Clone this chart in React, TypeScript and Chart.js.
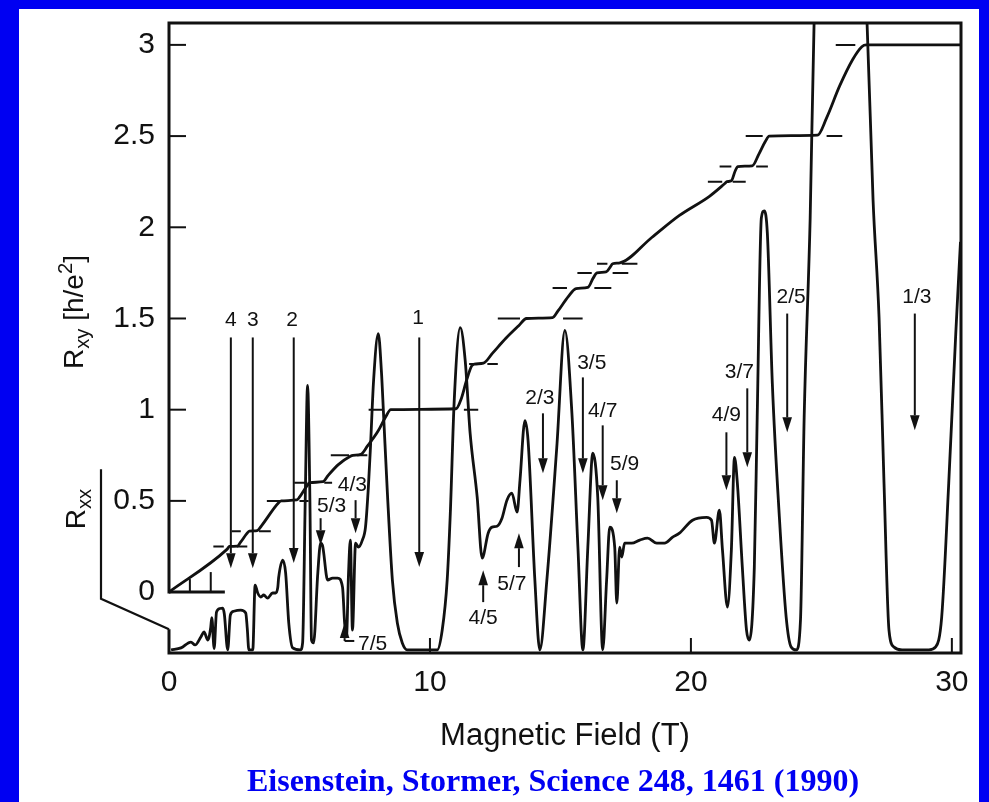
import React, { useEffect, useRef } from "react";
import { Chart, registerables } from "chart.js";

Chart.register(...registerables);

const FONT = "'Liberation Sans', Arial, Helvetica, sans-serif";
const INK = "#111111";
const BLUE = "#0000f2";

// ---- Longitudinal resistance R_xx (drawn in the plot's y units) ----
const rxxField = [
  0.08, 0.46, 0.84, 1.0, 1.22, 1.34, 1.49, 1.6, 1.64, 1.73, 1.82, 1.95, 2.06, 2.12, 2.25, 2.35,
  2.48, 2.75, 2.94, 3.0, 3.06, 3.21, 3.3, 3.4, 3.52, 3.63, 3.78, 3.97, 4.09, 4.17, 4.2, 4.36,
  4.47, 4.59, 4.74, 5.04, 5.12, 5.22, 5.31, 5.4, 5.46, 5.54, 5.7, 5.81, 5.88, 6.08, 6.27, 6.46,
  6.65, 6.73, 6.8, 6.88, 6.95, 7.03, 7.15, 7.26, 7.41, 7.53, 7.64, 7.72, 7.84, 8.02, 8.14, 8.22,
  8.37, 8.56, 8.75, 8.94, 9.13, 10.28, 10.47, 10.66, 10.78, 10.93, 11.16, 11.35, 11.54, 11.81,
  12.0, 12.23, 12.38, 12.57, 12.76, 12.95, 13.14, 13.34, 13.45, 13.64, 13.76, 14.02, 14.21,
  14.48, 14.86, 15.17, 15.44, 15.67, 15.86, 16.05, 16.24, 16.43, 16.62, 16.77, 16.89, 17.08,
  17.16, 17.27, 17.35, 17.46, 17.73, 18.04, 18.34, 18.69, 18.99, 19.3, 19.56, 20.06, 20.6,
  20.79, 20.9, 21.09, 21.21, 21.4, 21.55, 21.67, 21.78, 21.97, 22.13, 22.24, 22.43, 22.54, 22.7,
  22.81, 22.93, 23.12, 23.39, 23.65, 23.84, 24.04, 24.2, 24.34, 24.57, 24.72, 25.7, 26.75,
  26.98, 27.21, 27.4, 27.59, 27.78, 28.09, 29.12, 29.38, 29.61, 29.88, 30.15, 30.33,
];
const rxxValue = [
  -0.317, -0.306, -0.274, -0.29, -0.246, -0.219, -0.263, -0.192, -0.14, -0.31, -0.11, -0.09,
  -0.088, -0.12, -0.317, -0.126, -0.105, -0.099, -0.115, -0.2, -0.317, -0.317, 0.038, -0.005,
  -0.027, -0.016, -0.033, -0.005, -0.005, 0.027, 0.077, 0.175, 0.104, -0.17, -0.306, -0.317,
  -0.279, 0.5, 1.133, 0.5, -0.263, -0.279, 0.1, 0.268, 0.257, 0.066, 0.077, 0.077, 0.027, -0.17,
  -0.246, 0.104, 0.285, -0.208, 0.268, 0.246, 0.285, 0.356, 0.575, 0.794, 1.16, 1.417, 1.21,
  0.98, 0.54, 0.066, -0.17, -0.279, -0.317, -0.317, -0.208, 0.066, 0.432, 1.05, 1.45, 1.27, 0.87,
  0.52, 0.186, 0.323, 0.356, 0.361, 0.405, 0.504, 0.542, 0.438, 0.613, 0.94, 0.83, 0.066, -0.317,
  0.066, 0.794, 1.434, 0.98, 0.246, -0.317, 0.246, 0.761, 0.52, -0.317, 0.066, 0.356, 0.246,
  -0.06, 0.246, 0.192, 0.268, 0.268, 0.285, 0.296, 0.268, 0.268, 0.301, 0.323, 0.394, 0.41,
  0.394, 0.268, 0.449, 0.23, -0.082, 0.23, 0.739, 0.597, 0.137, -0.208, -0.263, 0.137, 0.958,
  2.052, 2.09, 1.965, 1.144, 0.41, -0.137, -0.301, -0.317, -0.15, 0.958, 2.05, 3.12, 5.5, 3.12,
  2.15, 1.505, 0.597, -0.208, -0.301, -0.317, -0.317, -0.301, -0.137, 0.597, 1.418, 1.92,
];

// ---- Hall resistance R_xy in h/e^2 ----
const rxyField = [
  0, 2.22, 2.32, 2.62, 2.75, 2.98, 3.08, 3.38, 3.55, 4.2, 4.3, 4.9, 5.0, 5.3, 5.4, 5.9, 6.1, 6.5,
  6.95, 7.05, 7.35, 7.6, 8.0, 8.3, 8.5, 11.0, 11.2, 11.4, 11.6, 11.7, 12.05, 12.4, 12.9, 13.4,
  13.7, 14.7, 14.9, 15.3, 15.6, 16.05, 16.25, 16.4, 16.75, 16.9, 17.0, 17.28, 18.5, 19.56, 20.71,
  21.3, 21.38, 21.55, 21.7, 21.8, 22.35, 22.6, 22.85, 23.0, 24.85, 25.2, 25.7, 26.2, 26.55, 26.72,
  30.35,
];
const rxyValue = [
  0, 0.234, 0.25, 0.252, 0.275, 0.32, 0.334, 0.337, 0.365, 0.49, 0.5, 0.505, 0.52, 0.585, 0.6,
  0.605, 0.64, 0.7, 0.745, 0.75, 0.755, 0.8, 0.88, 0.96, 1.0, 1.005, 1.06, 1.16, 1.24, 1.25, 1.255,
  1.31, 1.39, 1.46, 1.5, 1.505, 1.54, 1.62, 1.664, 1.67, 1.72, 1.75, 1.755, 1.78, 1.8, 1.805, 1.944,
  2.065, 2.17, 2.24, 2.25, 2.255, 2.31, 2.333, 2.337, 2.4, 2.47, 2.5, 2.505, 2.6, 2.775, 2.92, 2.99,
  3.0, 3.0,
];

// ---- Quantized plateau marks (h/e^2 / nu) ----
const plateauLevel = [0.25, 0.3333, 0.5, 0.6, 0.75, 1.0, 1.25, 1.5, 1.6667, 1.75, 1.8, 2.25, 2.3333, 2.5, 3.0];
const dashLeftFrom = [1.7, 2.4, 3.75, 4.8, 6.2, 7.65, 11.5, 12.6, 14.7, 15.65, 16.4, 20.65, 21.1, 22.1, 25.55];
const dashLeftTo = [2.1, 2.75, 4.3, 5.3, 6.9, 8.2, 11.8, 13.45, 15.25, 16.2, 16.8, 21.2, 21.55, 22.75, 26.3];
const dashRightFrom = [2.6, 3.45, 5.0, 5.95, 7.2, 11.3, 12.2, 15.1, 16.3, 17.0, 17.35, 21.6, 22.5, 25.2, NaN];
const dashRightTo = [3.0, 3.9, 5.35, 6.25, 7.6, 11.85, 12.6, 15.85, 16.95, 17.6, 17.95, 22.1, 22.95, 25.8, NaN];

// ---- Filling-factor arrows ----
const arrowText = ["4", "3", "2", "1", "5/3", "4/3", "7/5", "4/5", "5/7", "2/3", "3/5", "4/7", "5/9", "4/9", "3/7", "2/5", "1/3"];
const arrowField = [2.37, 3.21, 4.78, 9.59, 5.81, 7.15, 6.73, 12.04, 13.41, 14.33, 15.86, 16.62, 17.16, 21.36, 22.16, 23.69, 28.58];
const arrowTail = [1.396, 1.396, 1.396, 1.396, 0.405, 0.504, -0.268, -0.055, 0.137, 0.98, 1.177, 0.914, 0.613, 0.876, 1.117, 1.527, 1.527];
const arrowTip = [0.131, 0.131, 0.159, 0.137, 0.257, 0.323, -0.17, 0.12, 0.323, 0.651, 0.651, 0.504, 0.432, 0.558, 0.684, 0.876, 0.887];
const labelField = [2.37, 3.21, 4.72, 9.55, 6.23, 7.03, 7.8, 12.04, 13.14, 14.21, 16.2, 16.62, 17.46, 21.36, 21.86, 23.84, 28.66];
const labelValue = [1.49, 1.49, 1.49, 1.5, 0.471, 0.586, -0.285, -0.142, 0.044, 1.062, 1.253, 0.99, 0.7, 0.969, 1.204, 1.615, 1.615];

const xTickValues = [0, 10, 20, 30];
const yTickValues = [0, 0.5, 1, 1.5, 2, 2.5, 3];
const zeroLineTicks = [0.8, 1.6];

const decorPlugin = {
  id: "decor",
  afterDatasetsDraw(chart: any) {
    const { ctx, chartArea: a, scales } = chart;
    const X = (v: number) => scales.x.getPixelForValue(v);
    const Y = (v: number) => scales.y.getPixelForValue(v);
    ctx.save();
    ctx.strokeStyle = INK;
    ctx.fillStyle = INK;
    ctx.lineCap = "butt";
    ctx.lineJoin = "miter";

    // frame with broken left axis
    ctx.lineWidth = 3;
    ctx.beginPath();
    ctx.moveTo(a.left, Y(0) + 1.5);
    ctx.lineTo(a.left, a.top);
    ctx.lineTo(a.right, a.top);
    ctx.lineTo(a.right, a.bottom);
    ctx.lineTo(a.left, a.bottom);
    ctx.lineTo(a.left, Y(-0.204));
    ctx.stroke();

    // R_xy zero line
    ctx.beginPath();
    ctx.moveTo(a.left, Y(0));
    ctx.lineTo(X(2.14), Y(0));
    ctx.stroke();

    // R_xx bracket axis
    ctx.lineWidth = 2.2;
    const bx = a.left - 68;
    ctx.beginPath();
    ctx.moveTo(bx, Y(0.673));
    ctx.lineTo(bx, Y(-0.037));
    ctx.lineTo(a.left, Y(-0.204));
    ctx.stroke();

    // ticks
    ctx.lineWidth = 2;
    yTickValues.forEach((v) => {
      if (v === 0) return;
      ctx.beginPath();
      ctx.moveTo(a.left, Y(v));
      ctx.lineTo(a.left + 17, Y(v));
      ctx.stroke();
    });
    xTickValues.forEach((v) => {
      if (v === 0) return;
      ctx.beginPath();
      ctx.moveTo(X(v), a.bottom);
      ctx.lineTo(X(v), a.bottom - 15);
      ctx.stroke();
    });
    zeroLineTicks.forEach((v, i) => {
      ctx.beginPath();
      ctx.moveTo(X(v), Y(0));
      ctx.lineTo(X(v), Y(0) - (i === 0 ? 13 : 20));
      ctx.stroke();
    });

    // arrows
    ctx.font = `21px ${FONT}`;
    ctx.textAlign = "center";
    ctx.textBaseline = "middle";
    arrowText.forEach((t, i) => {
      const x = X(arrowField[i]);
      const y1 = Y(arrowTail[i]);
      const y2 = Y(arrowTip[i]);
      const dir = Math.sign(y2 - y1);
      const head = 15;
      const hw = 4.8;
      ctx.lineWidth = 2;
      ctx.beginPath();
      ctx.moveTo(x, y1);
      ctx.lineTo(x, y2 - dir * head);
      ctx.stroke();
      ctx.beginPath();
      ctx.moveTo(x, y2);
      ctx.lineTo(x - hw, y2 - dir * head);
      ctx.lineTo(x + hw, y2 - dir * head);
      ctx.closePath();
      ctx.fill();
      if (t === "7/5") {
        ctx.beginPath();
        ctx.moveTo(x, y1);
        ctx.lineTo(X(7.1), y1);
        ctx.stroke();
      }
      ctx.fillText(t, X(labelField[i]), Y(labelValue[i]));
    });
    ctx.restore();
  },
};

export default function App() {
  const ref = useRef<HTMLCanvasElement | null>(null);

  useEffect(() => {
    if (!ref.current) return;
    const rxxPts = rxxField.map((b, i) => ({ x: b, y: rxxValue[i] }));
    const rxyPts = rxyField.map((b, i) => ({ x: b, y: rxyValue[i] }));
    const dashPts: any[] = [];
    plateauLevel.forEach((v, i) => {
      dashPts.push({ x: dashLeftFrom[i], y: v }, { x: dashLeftTo[i], y: v }, { x: dashLeftTo[i] + 0.01, y: null });
      if (!isNaN(dashRightFrom[i])) {
        dashPts.push({ x: dashRightFrom[i], y: v }, { x: dashRightTo[i], y: v }, { x: dashRightTo[i] + 0.01, y: null });
      }
    });

    const chart = new Chart(ref.current, {
      type: "line",
      data: {
        datasets: [
          {
            label: "Rxx",
            data: rxxPts,
            borderColor: INK,
            borderWidth: 2.8,
            pointRadius: 0,
            cubicInterpolationMode: "monotone",
            fill: false,
          },
          {
            label: "Rxy",
            data: rxyPts,
            borderColor: INK,
            borderWidth: 2.8,
            pointRadius: 0,
            cubicInterpolationMode: "monotone",
            fill: false,
          },
          {
            label: "plateaus",
            data: dashPts,
            borderColor: INK,
            borderWidth: 2,
            pointRadius: 0,
            tension: 0,
            spanGaps: false,
            fill: false,
          },
        ],
      } as any,
      options: {
        animation: false,
        responsive: false,
        events: [],
        layout: { padding: { top: 23, right: 28, bottom: 0, left: 0 } },
        plugins: { legend: { display: false }, tooltip: { enabled: false } },
        scales: {
          x: {
            type: "linear",
            min: 0,
            max: 30.35,
            grid: { display: false, drawTicks: false },
            border: { display: false },
            afterBuildTicks: (s: any) => {
              s.ticks = xTickValues.map((v) => ({ value: v }));
            },
            afterFit: (s: any) => {
              s.height = 149;
              s.paddingLeft = 0;
              s.paddingRight = 0;
            },
            ticks: {
              font: { family: FONT, size: 30 },
              color: INK,
              padding: 12,
              maxRotation: 0,
              autoSkip: false,
              callback: (v: any) => String(v),
            },
            title: {
              display: true,
              text: "Magnetic Field (T)",
              font: { family: FONT, size: 31 },
              color: INK,
              padding: { top: 0, bottom: 47 },
            },
          },
          y: {
            type: "linear",
            min: -0.334,
            max: 3.12,
            grid: { display: false, drawTicks: false },
            border: { display: false },
            afterBuildTicks: (s: any) => {
              s.ticks = yTickValues.map((v) => ({ value: v }));
            },
            afterFit: (s: any) => {
              s.width = 169;
              s.paddingTop = 0;
              s.paddingBottom = 0;
            },
            ticks: {
              font: { family: FONT, size: 30 },
              color: INK,
              padding: 14,
              autoSkip: false,
              callback: (v: any) => String(v),
            },
          },
        },
      } as any,
      plugins: [decorPlugin],
    });
    return () => chart.destroy();
  }, []);

  const rot = (left: number, top: number): React.CSSProperties => ({
    position: "absolute",
    left,
    top,
    transform: "translate(-50%, -50%) rotate(-90deg)",
    whiteSpace: "nowrap",
    fontFamily: FONT,
    fontSize: 28,
    lineHeight: 1,
    color: INK,
  });
  const sub: React.CSSProperties = { fontSize: "0.72em", verticalAlign: "-0.3em" };
  const sup: React.CSSProperties = { fontSize: "0.72em", verticalAlign: "0.55em" };

  return (
    <div style={{ position: "fixed", left: 0, top: 0, width: 989, height: 802, background: "#fff", overflow: "hidden" }}>
      <canvas ref={ref} width={989} height={802} style={{ position: "absolute", left: 0, top: 0, width: 989, height: 802 }} />
      <div
        style={{
          position: "absolute",
          left: 0,
          top: 0,
          width: 989,
          height: 802,
          boxSizing: "border-box",
          borderTop: `9px solid ${BLUE}`,
          borderLeft: `19px solid ${BLUE}`,
          borderRight: `10px solid ${BLUE}`,
          pointerEvents: "none",
        }}
      />
      <div style={rot(74, 312)}>
        R<span style={sub}>xy</span> [h/e<span style={sup}>2</span>]
      </div>
      <div style={rot(78, 509)}>
        R<span style={sub}>xx</span>
      </div>
      <div
        style={{
          position: "absolute",
          left: 553,
          top: 780,
          transform: "translate(-50%, -50%)",
          whiteSpace: "nowrap",
          fontFamily: "'Liberation Serif', 'Times New Roman', serif",
          fontWeight: "bold",
          fontSize: 32,
          lineHeight: 1,
          color: BLUE,
        }}
      >
        Eisenstein, Stormer, Science 248, 1461 (1990)
      </div>
    </div>
  );
}
